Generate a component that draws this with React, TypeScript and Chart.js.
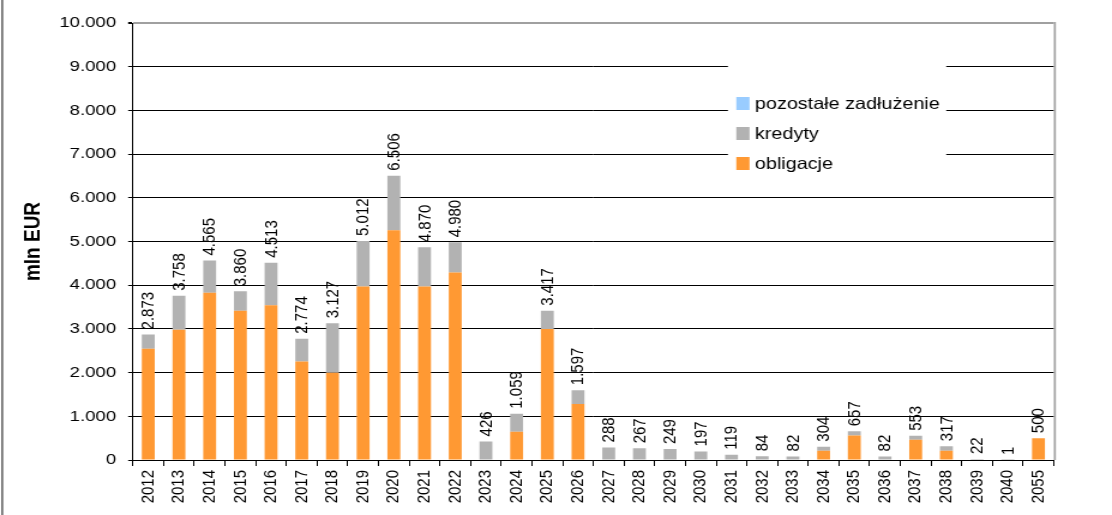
import React, { useEffect, useRef } from 'react';
import { Chart, registerables } from 'chart.js';

Chart.register(...registerables);

const years = [
  '2012', '2013', '2014', '2015', '2016', '2017', '2018', '2019', '2020', '2021',
  '2022', '2023', '2024', '2025', '2026', '2027', '2028', '2029', '2030', '2031',
  '2032', '2033', '2034', '2035', '2036', '2037', '2038', '2039', '2040', '2055',
];

const obligacje = [
  2546, 2982, 3830, 3417, 3539, 2255, 1995, 3968, 5255, 3968,
  4290, 0, 649, 3000, 1284, 0, 0, 0, 0, 0,
  0, 0, 213, 558, 0, 466, 213, 0, 0, 500,
];

const kredyty = [
  327, 776, 735, 443, 974, 519, 1132, 1044, 1251, 902,
  690, 426, 410, 417, 313, 288, 267, 249, 197, 119,
  84, 82, 91, 99, 82, 87, 104, 22, 1, 0,
];

const pozostale = [
  0, 0, 0, 0, 0, 0, 0, 0, 0, 0,
  0, 0, 0, 0, 0, 0, 0, 0, 0, 0,
  0, 0, 0, 0, 0, 0, 0, 0, 0, 0,
];

const totals = [
  2873, 3758, 4565, 3860, 4513, 2774, 3127, 5012, 6506, 4870,
  4980, 426, 1059, 3417, 1597, 288, 267, 249, 197, 119,
  84, 82, 304, 657, 82, 553, 317, 22, 1, 500,
];

const yMin = 0;
const yMax = 10000;
const yStep = 1000;

const FONT = '"Liberation Sans", Arial, sans-serif';
const ORANGE = '#FF9933';
const GREY = '#B2B2B2';
const BLUE = '#99CCFF';

// The reference is horizontally stretched: draw on a narrower canvas, stretch with CSS.
const VIEW_W = 1112;
const VIEW_H = 515;
const STRETCH = 1.2;
const CANVAS_W = Math.round(VIEW_W / STRETCH);

const fmt = (n: number) => String(n).replace(/\B(?=(\d{3})+(?!\d))/g, '.');

const decorPlugin = {
  id: 'decor',
  afterDraw(chart: any) {
    const { ctx, chartArea } = chart;
    ctx.save();
    // outer left frame line
    ctx.fillStyle = '#707070';
    ctx.fillRect(1, 0, 1.7, chart.height);
    // right border of plot area
    ctx.fillStyle = '#a0a0a0';
    ctx.fillRect(chartArea.right, chartArea.top - 1, 1.7, chartArea.bottom - chartArea.top + 1);

    // totals labels
    const xs = chart.scales.x;
    const ys = chart.scales.y;
    ctx.font = `15px ${FONT}`;
    ctx.fillStyle = '#000';
    ctx.textAlign = 'left';
    ctx.textBaseline = 'middle';
    totals.forEach((t, i) => {
      const x = xs.getPixelForValue(i);
      const y = ys.getPixelForValue(t);
      ctx.save();
      ctx.translate(x + 0.5, y - 5);
      ctx.rotate(-Math.PI / 2);
      ctx.fillText(fmt(t), 0, 0);
      ctx.restore();
    });

    // legend
    const lx = chartArea.left + 496;
    const ly = 64;
    ctx.fillStyle = '#fff';
    ctx.fillRect(lx, ly, 182, 126);
    const entries = [2, 1, 0].map((di) => chart.data.datasets[di]);
    ctx.font = `16.5px ${FONT}`;
    ctx.textBaseline = 'middle';
    entries.forEach((ds: any, k: number) => {
      const cy = 103.5 + k * 30;
      ctx.fillStyle = ds.backgroundColor;
      ctx.fillRect(lx + 7, cy - 6.5, 11, 13);
      ctx.fillStyle = '#000';
      ctx.fillText(ds.label, lx + 22.5, cy + 0.5);
    });
    ctx.restore();
  },
};

export default function App() {
  const ref = useRef<HTMLCanvasElement>(null);

  useEffect(() => {
    if (!ref.current) return;
    const chart = new Chart(ref.current, {
      type: 'bar',
      data: {
        labels: years,
        datasets: [
          { label: 'obligacje', data: obligacje, backgroundColor: ORANGE, stack: 's' },
          { label: 'kredyty', data: kredyty, backgroundColor: GREY, stack: 's' },
          { label: 'pozostałe zadłużenie', data: pozostale, backgroundColor: BLUE, stack: 's' },
        ],
      },
      options: {
        animation: false,
        responsive: false,
        maintainAspectRatio: false,
        devicePixelRatio: 1,
        layout: { padding: { top: 23, right: CANVAS_W - 878.5, bottom: 0, left: 0 } },
        datasets: { bar: { barPercentage: 0.42, categoryPercentage: 1 } },
        plugins: {
          legend: { display: false },
          tooltip: { enabled: false },
        },
        scales: {
          x: {
            stacked: true,
            afterFit: (s: any) => { s.height = 55; },
            grid: {
              offset: true,
              drawOnChartArea: false,
              color: '#000',
              tickColor: '#000',
              tickLength: 6,
            },
            border: { display: true, color: '#000', width: 1 },
            ticks: {
              autoSkip: false,
              maxRotation: 90,
              minRotation: 90,
              color: '#000',
              padding: 4,
              font: { family: FONT, size: 15 },
            },
          },
          y: {
            stacked: true,
            min: yMin,
            max: yMax,
            afterFit: (s: any) => { s.width = 110.8; },
            grid: {
              color: (c: any) => (c.tick && c.tick.value === yMax ? '#a0a0a0' : '#000'),
              lineWidth: (c: any) => (c.tick && c.tick.value === yMax ? 2 : 1),
              tickColor: '#000',
              tickLength: 4,
            },
            border: { display: true, color: '#000', width: 1 },
            ticks: {
              stepSize: yStep,
              color: '#000',
              padding: 10,
              font: { family: FONT, size: 15.5 },
              callback: (v: any) => fmt(Number(v)),
            },
            title: {
              display: true,
              text: 'mln EUR',
              color: '#000',
              padding: { top: 16, bottom: 0 },
              font: { family: FONT, size: 19, weight: 'bold' },
            },
          },
        },
      },
      plugins: [decorPlugin],
    });
    return () => chart.destroy();
  }, []);

  return (
    <div style={{ position: 'absolute', left: 0, top: 0, width: VIEW_W, height: VIEW_H, background: '#fff', overflow: 'hidden' }}>
      <canvas
        ref={ref}
        width={CANVAS_W}
        height={VIEW_H}
        style={{ display: 'block', width: VIEW_W + 'px', height: VIEW_H + 'px' }}
      />
    </div>
  );
}
